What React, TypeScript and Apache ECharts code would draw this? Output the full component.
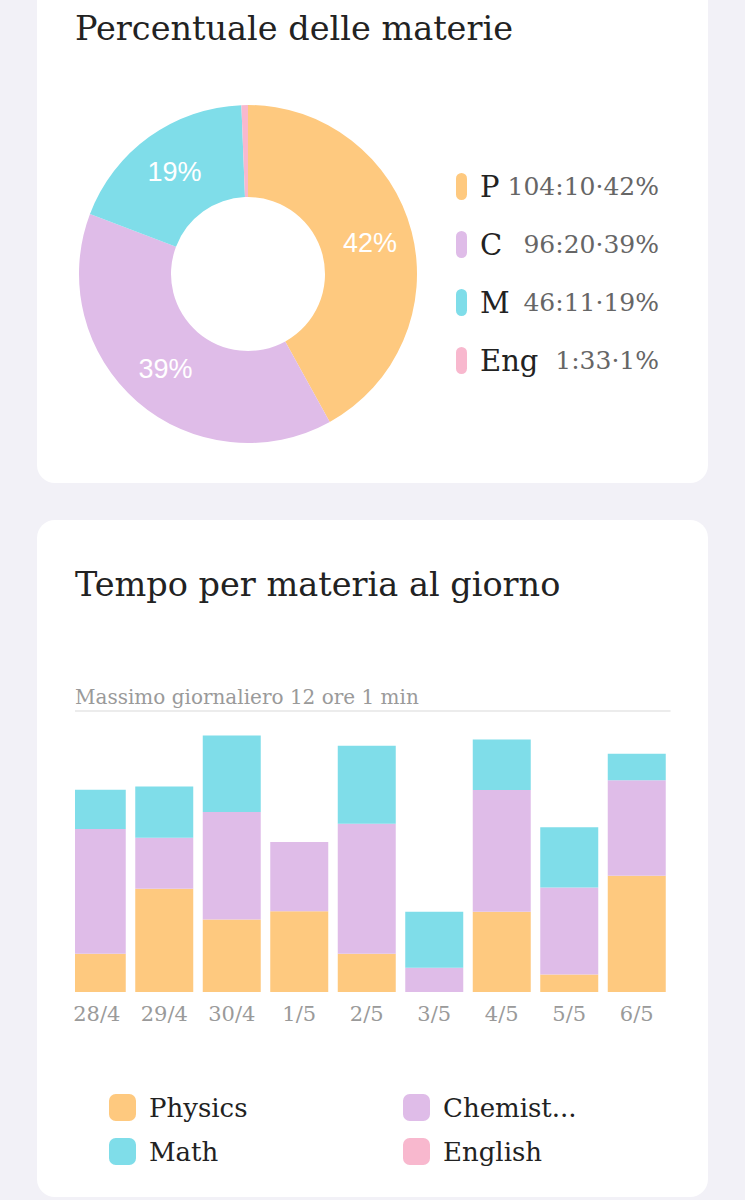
import React, { useEffect, useRef } from "react";
import * as echarts from "echarts";

// ---- data ----
const subjects = ["Physics", "Chemistry", "Math", "English"];
const subjectShort = ["P", "C", "M", "Eng"];
const subjectLegendLabels = ["Physics", "Chemist...", "Math", "English"];
const subjectColors = ["#FEC97F", "#DFBCE8", "#7FDDE9", "#F8B8CE"];
const totalMinutes = [6250, 5780, 2771, 93]; // 104:10, 96:20, 46:11, 1:33

const categories = ["28/4", "29/4", "30/4", "1/5", "2/5", "3/5", "4/5", "5/5", "6/5"];
const physicsMinutes = [98, 265, 186, 207, 98, 0, 206, 45, 298];
const chemistryMinutes = [320, 131, 276, 178, 334, 62, 312, 223, 245];
const mathMinutes = [101, 131, 196, 0, 200, 144, 130, 155, 68];
const englishMinutes = [0, 0, 0, 0, 0, 0, 0, 0, 0];
const dailyMaxMinutes = 721; // 12 ore 1 min

const pieTitle = "Percentuale delle materie";
const barTitle = "Tempo per materia al giorno";
const barSubtitle = "Massimo giornaliero 12 ore 1 min";

const SERIF = '"DejaVu Serif", serif';
const SANS = '"Liberation Sans", Arial, sans-serif';

function hm(m: number) {
  const h = Math.floor(m / 60);
  const r = m % 60;
  return h + ":" + (r < 10 ? "0" : "") + r;
}

export default function App() {
  const ref = useRef<HTMLDivElement>(null);
  useEffect(() => {
    if (!ref.current) return;
    const chart = echarts.init(ref.current, undefined, { renderer: "svg" });
    const total = totalMinutes.reduce((a, b) => a + b, 0);
    const pct = totalMinutes.map((m) => Math.round((m / total) * 100));
    const barSeriesData = [physicsMinutes, chemistryMinutes, mathMinutes, englishMinutes];

    const pillIcon = "path://M0,5.5 A5.5,5.5 0 0 1 11,5.5 L11,21.5 A5.5,5.5 0 0 1 0,21.5 Z";

    const bottomLegendBase = {
      orient: "vertical",
      top: 1094,
      padding: 0,
      itemWidth: 27,
      itemHeight: 27,
      itemGap: 17,
      icon: "roundRect",
      formatter: (name: string) => subjectLegendLabels[subjects.indexOf(name)],
      textStyle: {
        fontFamily: SERIF,
        fontSize: 26,
        color: "#222",
        lineHeight: 27,
        padding: [0, 0, 0, 8],
      },
    };

    chart.setOption({
      animation: false,
      backgroundColor: "#F2F1F7",
      title: [
        {
          text: pieTitle,
          left: 75,
          top: 11,
          padding: 0,
          textStyle: { fontFamily: SERIF, fontSize: 33.5, fontWeight: "normal", color: "#222" },
        },
        {
          text: barTitle,
          left: 75,
          top: 567,
          padding: 0,
          textStyle: { fontFamily: SERIF, fontSize: 33.5, fontWeight: "normal", color: "#222" },
        },
        {
          text: barSubtitle,
          left: 75,
          top: 687,
          padding: 0,
          textStyle: { fontFamily: SERIF, fontSize: 20, fontWeight: "normal", color: "#9A9A9A" },
        },
      ],
      graphic: [
        {
          type: "rect",
          z: -10,
          shape: { x: 37, y: -30, width: 671, height: 513, r: 18 },
          style: { fill: "#FFFFFF" },
          silent: true,
        },
        {
          type: "rect",
          z: -10,
          shape: { x: 37, y: 520, width: 671, height: 677, r: 18 },
          style: { fill: "#FFFFFF" },
          silent: true,
        },
        {
          type: "rect",
          z: 100,
          shape: { x: 55, y: 700, width: 20, height: 296 },
          style: { fill: "#FFFFFF" },
          silent: true,
        },
      ],
      legend: [
        {
          orient: "vertical",
          left: 456,
          top: 172,
          padding: 0,
          itemWidth: 11,
          itemHeight: 27,
          itemGap: 29,
          icon: pillIcon,
          data: subjects,
          formatter: (name: string) => {
            const i = subjects.indexOf(name);
            return "{n|" + subjectShort[i] + "}{v|" + hm(totalMinutes[i]) + "·" + pct[i] + "%}";
          },
          textStyle: {
            padding: [0, 0, 0, 8],
            rich: {
              n: { fontFamily: SERIF, fontSize: 29, color: "#222", width: 25, lineHeight: 27 },
              v: { fontFamily: SERIF, fontSize: 25, color: "#666", width: 154, align: "right", lineHeight: 27 },
            },
          },
        },
        { ...bottomLegendBase, left: 109, data: [subjects[0], subjects[2]] },
        { ...bottomLegendBase, left: 403, data: [subjects[1], subjects[3]] },
      ],
      grid: { left: 63, width: 607.5, top: 711, height: 281 },
      xAxis: {
        type: "category",
        data: categories,
        axisLine: { show: false },
        axisTick: { show: false },
        axisLabel: { fontFamily: SERIF, fontSize: 21, color: "#9A9A9A", margin: 11 },
      },
      yAxis: {
        type: "value",
        min: 0,
        max: dailyMaxMinutes,
        show: false,
        splitLine: { show: false },
      },
      series: [
        {
          type: "pie",
          center: [248, 274],
          radius: [77, 169],
          startAngle: 90,
          clockwise: true,
          avoidLabelOverlap: false,
          data: subjects.map((name, i) => ({
            name,
            value: totalMinutes[i],
            itemStyle: { color: subjectColors[i] },
            label: { show: pct[i] >= 5 },
          })),
          label: {
            position: "inside",
            color: "#FFFFFF",
            fontFamily: SANS,
            fontSize: 27,
            formatter: (p: any) => Math.round(p.percent) + "%",
          },
          labelLine: { show: false },
          emphasis: { disabled: true },
        },
        ...subjects.map((name, i) => ({
          type: "bar",
          name,
          stack: "total",
          barWidth: 58,
          data: barSeriesData[i],
          itemStyle: { color: subjectColors[i] },
          emphasis: { disabled: true },
          ...(i === 0
            ? {
                markLine: {
                  silent: true,
                  symbol: "none",
                  label: { show: false },
                  lineStyle: { color: "#ECECEC", width: 2, type: "solid" },
                  data: [{ yAxis: dailyMaxMinutes }],
                },
              }
            : {}),
        })),
      ],
    });
    return () => chart.dispose();
  }, []);
  return (
    <div
      ref={ref}
      style={{ position: "absolute", left: 0, top: 0, width: 745, height: 1200 }}
    />
  );
}
